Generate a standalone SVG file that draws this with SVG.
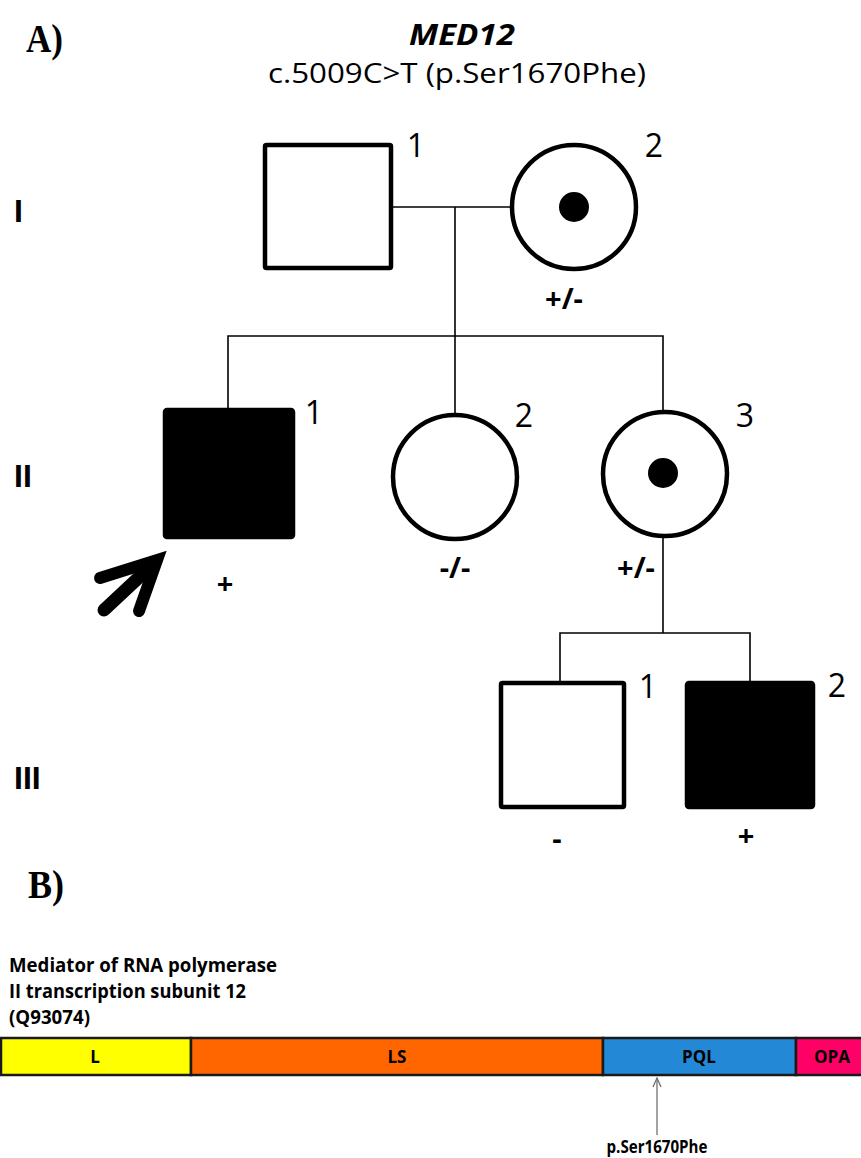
<svg xmlns="http://www.w3.org/2000/svg" width="861" height="1158" viewBox="0 0 861 1158">
<style>
.panel{font-family:"Liberation Serif","Times New Roman",serif;font-weight:bold;font-size:40px;fill:#000}
.sans{font-family:"Open Sans","Noto Sans","Liberation Sans",sans-serif;fill:#000}
.gen{font-family:"Liberation Sans",Arial,sans-serif;font-weight:bold;font-size:32px;fill:#000}
.num{font-family:"Open Sans","Noto Sans",sans-serif;font-size:32px;fill:#000;text-anchor:middle}
.geno{font-family:"Open Sans","Noto Sans",sans-serif;font-weight:bold;font-size:29px;fill:#000;text-anchor:middle}
.sym{fill:#fff;stroke:#000;stroke-width:4.5}
.aff{fill:#000;stroke:#000;stroke-width:4.5}
.conn{fill:none;stroke:#000;stroke-width:1.6}
.dom{stroke:#1a1a1a;stroke-width:2.5}
.dlab{font-family:"Open Sans","Noto Sans",sans-serif;font-weight:bold;font-size:17px;fill:#000;text-anchor:middle}
.ptxt{font-family:"Open Sans","Noto Sans",sans-serif;font-weight:bold;font-size:19px;fill:#000}
</style>

<!-- Panel A header -->
<text class="panel" x="26" y="52" textLength="37" lengthAdjust="spacingAndGlyphs">A)</text>
<text class="sans" x="462" y="45" text-anchor="middle" font-weight="bold" font-style="italic" font-size="29" textLength="106" lengthAdjust="spacingAndGlyphs">MED12</text>
<text class="sans" x="457" y="83" text-anchor="middle" font-size="28" textLength="378" lengthAdjust="spacingAndGlyphs">c.5009C&gt;T (p.Ser1670Phe)</text>

<!-- Generation labels -->
<text class="gen" x="14" y="222">I</text>
<text class="gen" x="14" y="487">II</text>
<text class="gen" x="14" y="789">III</text>

<!-- Connectors -->
<g id="connectors">
  <path class="conn" d="M391,207 H511"/>
  <path class="conn" d="M455,207 V336"/>
  <path class="conn" d="M228,410 V336 H663 V410"/>
  <path class="conn" d="M455,336 V415"/>
  <path class="conn" d="M663,536 V633"/>
  <path class="conn" d="M560,683 V633 H750 V683"/>
</g>

<!-- Generation I -->
<g id="I-1">
  <rect class="sym" x="265" y="145" width="126" height="123" rx="1.5"/>
  <text class="num" x="416" y="157">1</text>
</g>
<g id="I-2">
  <circle class="sym" cx="574" cy="207" r="62"/>
  <circle cx="574" cy="207" r="15" fill="#000"/>
  <text class="num" x="654" y="157">2</text>
  <text class="geno" x="564" y="309">+/-</text>
</g>

<!-- Generation II -->
<g id="II-1">
  <rect class="aff" x="165" y="410" width="128" height="127" rx="2"/>
  <text class="num" x="314" y="424">1</text>
  <text class="geno" x="225" y="594">+</text>
</g>
<g id="proband-arrow">
  <path d="M100,578 L157,560 L139,611" fill="none" stroke="#000" stroke-width="12" stroke-linecap="round" stroke-linejoin="miter"/>
  <path d="M104,610 L150,567" fill="none" stroke="#000" stroke-width="13" stroke-linecap="round"/>
</g>
<g id="II-2">
  <circle class="sym" cx="455" cy="477" r="62"/>
  <text class="num" x="524" y="427">2</text>
  <text class="geno" x="455" y="578">-/-</text>
</g>
<g id="II-3">
  <circle class="sym" cx="665" cy="474" r="62"/>
  <circle cx="663" cy="473" r="15" fill="#000"/>
  <text class="num" x="745" y="427">3</text>
  <text class="geno" x="636" y="578">+/-</text>
</g>

<!-- Generation III -->
<g id="III-1">
  <rect class="sym" x="501" y="683" width="123" height="124" rx="1.5"/>
  <text class="num" x="648" y="698">1</text>
  <text class="geno" x="557" y="849">-</text>
</g>
<g id="III-2">
  <rect class="aff" x="687" y="683" width="126" height="124" rx="2"/>
  <text class="num" x="837" y="697">2</text>
  <text class="geno" x="746" y="846">+</text>
</g>

<!-- Panel B -->
<text class="panel" x="28" y="898" textLength="36" lengthAdjust="spacingAndGlyphs">B)</text>
<text class="ptxt" x="9" y="972" textLength="268" lengthAdjust="spacingAndGlyphs">Mediator of RNA polymerase</text>
<text class="ptxt" x="9" y="998" textLength="237" lengthAdjust="spacingAndGlyphs">II transcription subunit 12</text>
<text class="ptxt" x="9" y="1024" textLength="81" lengthAdjust="spacingAndGlyphs">(Q93074)</text>

<g id="protein">
  <rect id="dom-L" class="dom" x="1" y="1038" width="190" height="37" fill="#FFFF00"/>
  <rect id="dom-LS" class="dom" x="191" y="1038" width="412" height="37" fill="#FF6600"/>
  <rect id="dom-PQL" class="dom" x="603" y="1038" width="193" height="37" fill="#2389D6"/>
  <rect id="dom-OPA" class="dom" x="796" y="1038" width="70" height="37" fill="#FF0066"/>
  <text class="dlab" x="95" y="1063">L</text>
  <text class="dlab" x="397" y="1063">LS</text>
  <text class="dlab" x="699" y="1063">PQL</text>
  <text class="dlab" x="832" y="1063">OPA</text>
</g>
<g id="variant-marker">
  <path d="M657,1135 V1078" fill="none" stroke="#707070" stroke-width="1.3"/>
  <path d="M653,1087 L657,1078 L661,1087" fill="none" stroke="#707070" stroke-width="1.3"/>
  <text class="dlab" x="657" y="1153" font-size="15" textLength="101" lengthAdjust="spacingAndGlyphs">p.Ser1670Phe</text>
</g>
</svg>
